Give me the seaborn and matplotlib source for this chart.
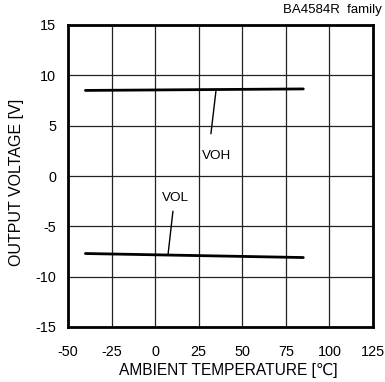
import matplotlib
matplotlib.use("Agg")
import matplotlib.pyplot as plt
import seaborn as sns
import pandas as pd

sns.set_style("white")
plt.rcParams['font.family'] = ['Liberation Sans', 'DejaVu Sans']
plt.rcParams['axes.unicode_minus'] = False
plt.rcParams['text.color'] = 'black'
plt.rcParams['axes.labelcolor'] = 'black'

temp = [-40, 85]
voh = [8.5, 8.65]
vol = [-7.7, -8.1]
x_ticks = [-50, -25, 0, 25, 50, 75, 100, 125]
y_ticks = [-15, -10, -5, 0, 5, 10, 15]

df = pd.DataFrame({"temp": temp + temp,
                   "v": voh + vol,
                   "s": ["VOH", "VOH", "VOL", "VOL"]})

fig = plt.figure(figsize=(3.85, 3.82), dpi=100)
ax = fig.add_axes([68/385, 1-327/382, 305/385, 302/382])

for s in ["VOH", "VOL"]:
    sns.lineplot(data=df[df.s == s], x="temp", y="v", ax=ax, color="black", lw=2, legend=False)

ax.set_xlim(-50, 125)
ax.set_ylim(-15, 15)
ax.set_xticks(x_ticks)
ax.set_yticks(y_ticks)
ax.grid(True, color="#222222", lw=0.9)
for sp in ax.spines.values():
    sp.set_linewidth(2)
    sp.set_color("black")
ax.tick_params(direction="in", length=3, width=1.5, labelsize=10.4, colors="black")
ax.tick_params(axis="x", pad=13)
ax.tick_params(axis="y", pad=8.5)
ax.set_xlabel("AMBIENT TEMPERATURE [℃]", fontsize=11.2, labelpad=3, color="black")
ax.set_ylabel("OUTPUT VOLTAGE [V]", fontsize=11.5, labelpad=8, color="black")
ax.xaxis.label.set_x(0.526)
ax.yaxis.label.set_y(0.478)

ax.plot([35, 32], [8.6, 4.2], color="black", lw=1)
ax.text(35.5, 2.0, "VOH", fontsize=9.7, ha="center", va="center", color="black")
ax.plot([7.4, 10.2], [-7.8, -3.5], color="black", lw=1)
ax.text(11.4, -2.2, "VOL", fontsize=9.7, ha="center", va="center", color="black")

fig.text(382/385, 1-10/382, "BA4584R  family", fontsize=9.5, ha="right", va="center", color="black")

fig.savefig("out.png", dpi=100)
